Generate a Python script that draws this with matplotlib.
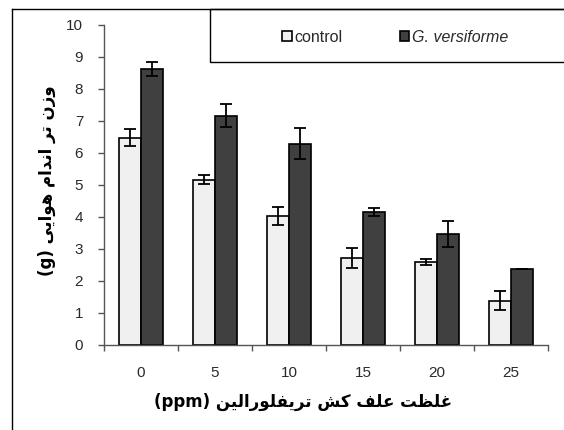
import numpy as np
import matplotlib
matplotlib.use("Agg")
import matplotlib.pyplot as plt
from matplotlib.patches import Rectangle, Patch
from matplotlib.lines import Line2D

# data
doses = ["0", "5", "10", "15", "20", "25"]
control = [6.48, 5.16, 4.02, 2.72, 2.59, 1.39]
control_err = [0.27, 0.14, 0.28, 0.32, 0.10, 0.29]
gv = [8.63, 7.16, 6.29, 4.15, 3.47, 2.38]
gv_err = [0.21, 0.36, 0.48, 0.13, 0.42, 0.0]
series_names = ["control", "G. versiforme"]

ylabel_words = ["وزن", "تر", "اندام", "هوایی"]
xlabel_words = ["غلظت", "علف", "کش", "تریفلورالین"]

# tiny arabic/persian shaper: (isolated, final, initial, medial)
FORMS = {
    "ا": ("\ufe8d", "\ufe8e"),
    "د": ("\ufea9", "\ufeaa"),
    "ر": ("\ufead", "\ufeae"),
    "ز": ("\ufeaf", "\ufeb0"),
    "و": ("\ufeed", "\ufeee"),
    "ت": ("\ufe95", "\ufe96", "\ufe97", "\ufe98"),
    "ن": ("\ufee5", "\ufee6", "\ufee7", "\ufee8"),
    "م": ("\ufee1", "\ufee2", "\ufee3", "\ufee4"),
    "ه": ("\ufee9", "\ufeea", "\ufeeb", "\ufeec"),
    "ی": ("\ufbfc", "\ufbfd", "\ufbfe", "\ufbff"),
    "غ": ("\ufecd", "\ufece", "\ufecf", "\ufed0"),
    "ل": ("\ufedd", "\ufede", "\ufedf", "\ufee0"),
    "ظ": ("\ufec5", "\ufec6", "\ufec7", "\ufec8"),
    "ع": ("\ufec9", "\ufeca", "\ufecb", "\ufecc"),
    "ف": ("\ufed1", "\ufed2", "\ufed3", "\ufed4"),
    "ک": ("\ufb8e", "\ufb8f", "\ufb90", "\ufb91"),
    "ش": ("\ufeb5", "\ufeb6", "\ufeb7", "\ufeb8"),
}


def shape(word):
    # returns the word in visual (left to right) order
    out = []
    for i, c in enumerate(word):
        if c not in FORMS:
            out.append(c)
            continue
        prev = word[i - 1] if i > 0 else None
        nxt = word[i + 1] if i + 1 < len(word) else None
        jp = prev in FORMS and len(FORMS[prev]) == 4
        jn = nxt in FORMS and len(FORMS[c]) == 4
        f = FORMS[c]
        if jp and jn:
            out.append(f[3])
        elif jp:
            out.append(f[1])
        elif jn:
            out.append(f[2])
        else:
            out.append(f[0])
    return "".join(reversed(out))


ylabel = "(g) " + " ".join(shape(w) for w in reversed(ylabel_words))
xlabel = "(ppm) " + " ".join(shape(w) for w in reversed(xlabel_words))

W, H = 564, 430
fig = plt.figure(figsize=(W / 100, H / 100), dpi=100)
ax = fig.add_axes([104 / W, 1 - 345 / H, 444 / W, 320 / H])

x = np.arange(len(doses))
bw = 0.293
ax.bar(x - bw / 2, control, bw, color="#f0f0f0", edgecolor="black", linewidth=1.2, zorder=2)
ax.bar(x + bw / 2, gv, bw, color="#404040", edgecolor="black", linewidth=1.2, zorder=2)
ax.errorbar(x - bw / 2, control, yerr=control_err, fmt="none", ecolor="black",
            elinewidth=1.3, capsize=4, capthick=1.3, zorder=3)
ax.errorbar(x + bw / 2, gv, yerr=gv_err, fmt="none", ecolor="black",
            elinewidth=1.3, capsize=4, capthick=1.3, zorder=3)

ax.set_xlim(-0.5, len(doses) - 0.5)
ax.set_ylim(0, 10)
ax.set_yticks(range(0, 11))
ax.set_xticks(x)
ax.set_xticklabels(doses)
ax.set_xticks(np.arange(len(doses) + 1) - 0.5, minor=True)
ax.tick_params(axis="x", which="major", length=0, pad=15)
ax.tick_params(axis="x", which="minor", length=4.5, width=1, color="#555555", direction="out")
ax.tick_params(axis="y", length=4, width=1, color="#555555", pad=11)
for lab in ax.get_xticklabels() + ax.get_yticklabels():
    lab.set_fontfamily("Liberation Sans")
    lab.set_fontsize(11)
    lab.set_color("#2a2a2a")

for s in ["top", "right"]:
    ax.spines[s].set_visible(False)
for s in ["left", "bottom"]:
    ax.spines[s].set_color("#555555")
    ax.spines[s].set_linewidth(1)

fig.text(303 / W, 1 - 402 / H, xlabel, ha="center", va="center",
         fontsize=12, fontweight="bold", family=["DejaVu Sans"])
fig.text(47 / W, 1 - 181 / H, ylabel, ha="center", va="center", rotation=90,
         fontsize=12, fontweight="bold", family=["DejaVu Sans"])

# outer frame lines (left and top) and legend box
fig.add_artist(Line2D([11.5 / W, 11.5 / W], [0, 1 - 9 / H], color="black", lw=1))
fig.add_artist(Line2D([11.5 / W, 1], [1 - 9 / H, 1 - 9 / H], color="black", lw=1))
fig.add_artist(Rectangle((210 / W, 1 - 62 / H), 1, 53 / H, transform=fig.transFigure,
                         facecolor="none", edgecolor="black", lw=1))

handles = [Patch(facecolor="#f0f0f0", edgecolor="black", lw=1.2),
           Patch(facecolor="#404040", edgecolor="black", lw=1.2)]
leg = fig.legend(handles, series_names, loc="center", bbox_to_anchor=(395 / W, 1 - 37.5 / H),
                 ncol=2, frameon=False, handlelength=0.6, handleheight=0.6,
                 handletextpad=0.15, columnspacing=3.6,
                 prop={"family": "Liberation Sans", "size": 11.5})
for t in leg.get_texts():
    t.set_color("#2a2a2a")
leg.get_texts()[1].set_fontstyle("italic")

fig.savefig("out.png", dpi=100)
